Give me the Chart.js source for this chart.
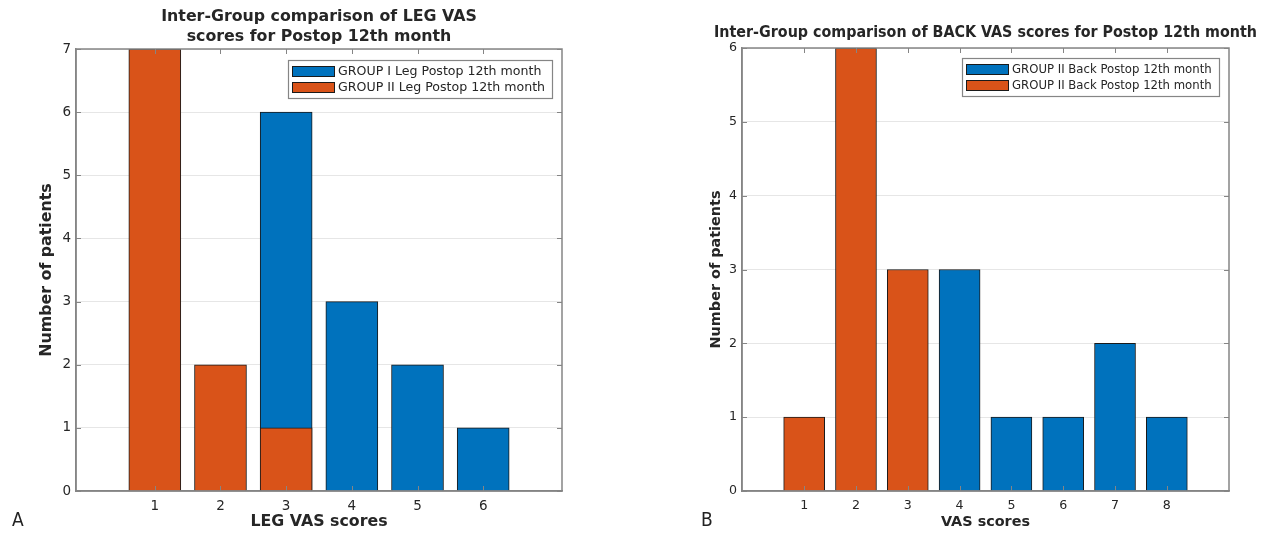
<!DOCTYPE html>
<html>
<head>
<meta charset="utf-8">
<script src="https://cdn.jsdelivr.net/npm/chart.js@4.4.1/dist/chart.umd.min.js"></script>
<style>
  body { margin: 0; background: #fff; width: 1270px; height: 536px; position: relative; overflow: hidden;
         font-family: "DejaVu Sans", sans-serif; }
  .panel { position: absolute; top: 0; width: 635px; height: 536px; }
  .tag { position: absolute; font-size: 19px; color: #222; line-height: 22px; font-family: "DejaVu Sans Condensed", "DejaVu Sans", sans-serif; }
</style>
</head>
<body>
<div class="panel" style="left:0"><canvas id="legChart" width="635" height="536"></canvas></div>
<div class="panel" style="left:635px"><canvas id="backChart" width="635" height="536"></canvas></div>
<div class="tag" style="left:12px;top:508px">A</div>
<div class="tag" style="left:701px;top:508px">B</div>

<script>
// Panel A - LEG VAS scores
const legScores = [1, 2, 3, 4, 5, 6];
const legGroupI = [0, 0, 6, 3, 2, 1];
const legGroupII = [7, 2, 1, 0, 0, 0];
const legLabels = ['GROUP I Leg Postop 12th month', 'GROUP II Leg Postop 12th month'];

// Panel B - BACK VAS scores (both legend entries read "GROUP II" in the original)
const backScores = [1, 2, 3, 4, 5, 6, 7, 8];
const backBlue = [0, 0, 0, 3, 1, 1, 2, 1];
const backOrange = [1, 6, 3, 0, 0, 0, 0, 0];
const backLabels = ['GROUP II Back Postop 12th month', 'GROUP II Back Postop 12th month'];

const FONT = '"DejaVu Sans", sans-serif';
const FONT_NARROW = '"DejaVu Sans Condensed", "DejaVu Sans", sans-serif';
const BLUE = '#0072BD', ORANGE = '#D95319', EDGE = '#1a1a1a';
const AXIS = '#858585', TXT = '#262626';

const pts = (xs, ys) => xs.map((x, i) => ({ x, y: ys[i] ? ys[i] : null }));

// box around the axes + small inward tick marks (matlab style)
const frame = {
  id: 'frame',
  afterDraw(chart) {
    const { ctx, chartArea: a, scales: { x, y } } = chart;
    ctx.save();
    ctx.strokeStyle = AXIS;
    ctx.lineWidth = 1.5;
    ctx.strokeRect(a.left, a.top, a.right - a.left, a.bottom - a.top);
    ctx.lineWidth = 1;
    ctx.beginPath();
    x.ticks.forEach(t => {
      const px = Math.round(x.getPixelForValue(t.value)) + 0.5;
      ctx.moveTo(px, a.bottom); ctx.lineTo(px, a.bottom - 5);
      ctx.moveTo(px, a.top); ctx.lineTo(px, a.top + 5);
    });
    y.ticks.forEach(t => {
      const py = Math.round(y.getPixelForValue(t.value)) + 0.5;
      ctx.moveTo(a.left, py); ctx.lineTo(a.left + 5, py);
      ctx.moveTo(a.right, py); ctx.lineTo(a.right - 5, py);
    });
    ctx.stroke();
    ctx.restore();
  }
};

// title centred over the axes, allowed to run wider than them
const headline = {
  id: 'headline',
  afterDraw(chart, args, opts) {
    const { ctx, chartArea: a } = chart;
    ctx.save();
    ctx.font = 'bold ' + opts.size + 'px ' + opts.family;
    ctx.fillStyle = TXT;
    ctx.textAlign = 'center';
    ctx.textBaseline = 'middle';
    opts.lines.forEach((t, i) => ctx.fillText(t, (a.left + a.right) / 2, opts.y + i * 20));
    ctx.restore();
  }
};

// legend box sitting inside the plot, top right
const boxLegend = {
  id: 'boxLegend',
  afterDraw(chart, args, opts) {
    const { ctx, chartArea: a } = chart;
    const sets = chart.data.datasets;
    ctx.save();
    ctx.font = opts.size + 'px ' + FONT;
    const tw = Math.max(...sets.map(d => ctx.measureText(d.label).width));
    const w = Math.round(4 + 43 + 3 + tw + 7), h = 38;
    const x0 = Math.round(a.right - opts.right - w), y0 = Math.round(a.top + opts.top);
    ctx.fillStyle = '#fff';
    ctx.fillRect(x0, y0, w, h);
    ctx.strokeStyle = AXIS;
    ctx.lineWidth = 1.2;
    ctx.strokeRect(x0 + 0.5, y0 + 0.5, w, h);
    sets.forEach((d, i) => {
      const cy = y0 + 11.5 + i * 16;
      ctx.fillStyle = d.backgroundColor;
      ctx.fillRect(x0 + 4, cy - 5.5, 43, 11);
      ctx.strokeStyle = d.borderColor;
      ctx.lineWidth = 1;
      ctx.strokeRect(x0 + 4.5, cy - 5, 42, 10);
      ctx.fillStyle = TXT;
      ctx.textBaseline = 'middle';
      ctx.fillText(d.label, x0 + 50, cy + 0.5);
    });
    ctx.restore();
  }
};

function buildChart(id, o) {
  const tickFont = { family: FONT, size: o.tickSize };
  const axisFont = { family: FONT, size: o.axisSize, weight: 'bold', lineHeight: 1.2 };
  return new Chart(document.getElementById(id), {
    type: 'bar',
    data: {
      datasets: [
        { label: o.labels[0], data: pts(o.scores, o.blue), backgroundColor: BLUE, borderColor: EDGE,
          borderWidth: 1, grouped: false, order: 1, barThickness: o.barW },
        { label: o.labels[1], data: pts(o.scores, o.orange), backgroundColor: ORANGE, borderColor: EDGE,
          borderWidth: 1, grouped: false, order: 0, barThickness: o.barW }
      ]
    },
    options: {
      responsive: false,
      animation: false,
      layout: { padding: o.pad },
      plugins: {
        legend: { display: false },
        tooltip: { enabled: false },
        headline: { lines: o.title, size: o.titleSize, family: o.titleFamily, y: o.titleY },
        boxLegend: { size: o.legSize, right: 10, top: o.legTop }
      },
      scales: {
        x: {
          type: 'linear', min: o.xMin, max: o.xMax, offset: false,
          afterBuildTicks: s => { s.ticks = o.scores.map(v => ({ value: v })); },
          afterFit: s => { s.height = 44; },
          grid: { display: false, drawTicks: false },
          border: { color: AXIS, width: 1.5 },
          ticks: { padding: 7, font: tickFont, color: TXT, maxRotation: 0 },
          title: { display: true, text: o.xTitle, font: axisFont, color: TXT, padding: { top: 0, bottom: o.xTitleBottom } }
        },
        y: {
          min: 0, max: o.yMax,
          afterFit: s => { s.width = o.yW; },
          grid: { color: '#e6e6e6', drawTicks: false },
          border: { color: AXIS, width: 1.5 },
          ticks: { stepSize: 1, padding: 5, font: tickFont, color: TXT },
          title: { display: true, text: 'Number of patients', font: axisFont, color: TXT, padding: { top: 4, bottom: 0 } }
        }
      }
    },
    plugins: [frame, boxLegend, headline]
  });
}

buildChart('legChart', {
  scores: legScores, blue: legGroupI, orange: legGroupII, labels: legLabels,
  title: ['Inter-Group comparison of LEG VAS', 'scores for Postop 12th month'], titleY: 17,
  titleFamily: FONT, titleSize: 15.8,
  xTitle: 'LEG VAS scores', xMin: -0.2, xMax: 7.2, yMax: 7, barW: 52,
  axisSize: 15.8, tickSize: 13.5, legSize: 12.6,
  pad: { left: 33.5, right: 73, top: 49, bottom: 1 }, yW: 42.5, xTitleBottom: 3.5,
  legTop: 11
});

buildChart('backChart', {
  scores: backScores, blue: backBlue, orange: backOrange, labels: backLabels,
  title: ['Inter-Group comparison of BACK VAS scores for Postop 12th month'], titleY: 33,
  titleFamily: FONT_NARROW, titleSize: 15.9,
  xTitle: 'VAS scores', xMin: -0.2, xMax: 9.2, yMax: 6, barW: 41,
  axisSize: 14.4, tickSize: 12.6, legSize: 11.7,
  pad: { left: 68.4, right: 41, top: 48, bottom: 1 }, yW: 38.6, xTitleBottom: 4.4,
  legTop: 10
});
</script>
</body>
</html>
